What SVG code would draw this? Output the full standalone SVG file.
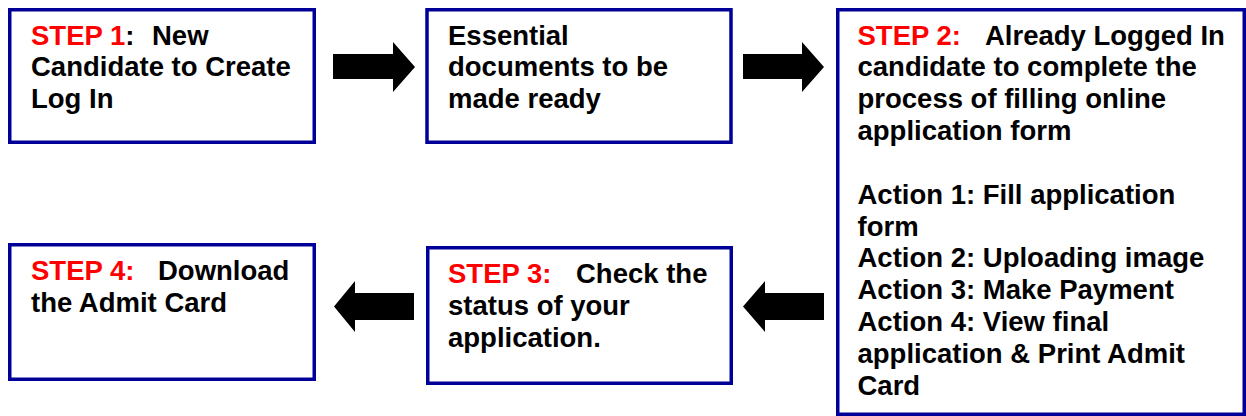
<svg xmlns="http://www.w3.org/2000/svg" width="1246" height="416" viewBox="0 0 1246 416">
<style>
.box{fill:#ffffff;stroke:#000099;stroke-width:3.5}
.t{font-family:"Liberation Sans",Arial,sans-serif;font-weight:bold;font-size:27.5px;fill:#000000}
.red{fill:#ff0000}
.arr{fill:#000000;stroke:none}
</style>
<rect x="0" y="0" width="1246" height="416" fill="#ffffff"/>
<g id="connectors">
<polygon class="arr" points="333,54 393,54 393,42 415,67 393,92 393,79 333,79"/>
<polygon class="arr" points="743,54 802,54 802,42 824,67 802,92 802,79 743,79"/>
<polygon class="arr" points="824,293 765,293 765,281 743,306.5 765,332 765,320 824,320"/>
<polygon class="arr" points="414,293 355,293 355,281 334,306.5 355,332 355,320 414,320"/>
</g>
<g id="step1">
<rect class="box" x="9.75" y="9.75" width="304.5" height="132.5"/>
<text class="t" x="31" y="44.5"><tspan class="red">STEP 1</tspan>:<tspan x="152">New</tspan></text>
<text class="t" x="31" y="76.3">Candidate to Create</text>
<text class="t" x="31" y="108">Log In</text>
</g>
<g id="documents">
<rect class="box" x="427" y="9.75" width="304" height="132.5"/>
<text class="t" x="448" y="44.5">Essential</text>
<text class="t" x="448" y="76.3">documents to be</text>
<text class="t" x="448" y="108">made ready</text>
</g>
<g id="step2">
<rect class="box" x="837.75" y="9.75" width="406.5" height="404.5"/>
<text class="t" x="857.5" y="44.5"><tspan class="red">STEP 2:</tspan><tspan x="985">Already Logged In</tspan></text>
<text class="t" x="857.5" y="76.35">candidate to complete the</text>
<text class="t" x="857.5" y="108.2">process of filling online</text>
<text class="t" x="857.5" y="140">application form</text>
<text class="t" x="857.5" y="203.7">Action 1: Fill application</text>
<text class="t" x="857.5" y="235.5">form</text>
<text class="t" x="857.5" y="267.4">Action 2: Uploading image</text>
<text class="t" x="857.5" y="299.2">Action 3: Make Payment</text>
<text class="t" x="857.5" y="331.1">Action 4: View final</text>
<text class="t" x="857.5" y="363">application &amp; Print Admit</text>
<text class="t" x="857.5" y="394.8">Card</text>
</g>
<g id="step3">
<rect class="box" x="427.75" y="247.75" width="303.5" height="135.5"/>
<text class="t" x="448" y="282.5"><tspan class="red">STEP 3:</tspan><tspan x="576">Check the</tspan></text>
<text class="t" x="448" y="314.5">status of your</text>
<text class="t" x="448" y="346.5">application.</text>
</g>
<g id="step4">
<rect class="box" x="9.75" y="244.75" width="304.5" height="134.5"/>
<text class="t" x="31" y="279.5"><tspan class="red">STEP 4:</tspan><tspan x="158">Download</tspan></text>
<text class="t" x="31" y="311.5">the Admit Card</text>
</g>
</svg>
